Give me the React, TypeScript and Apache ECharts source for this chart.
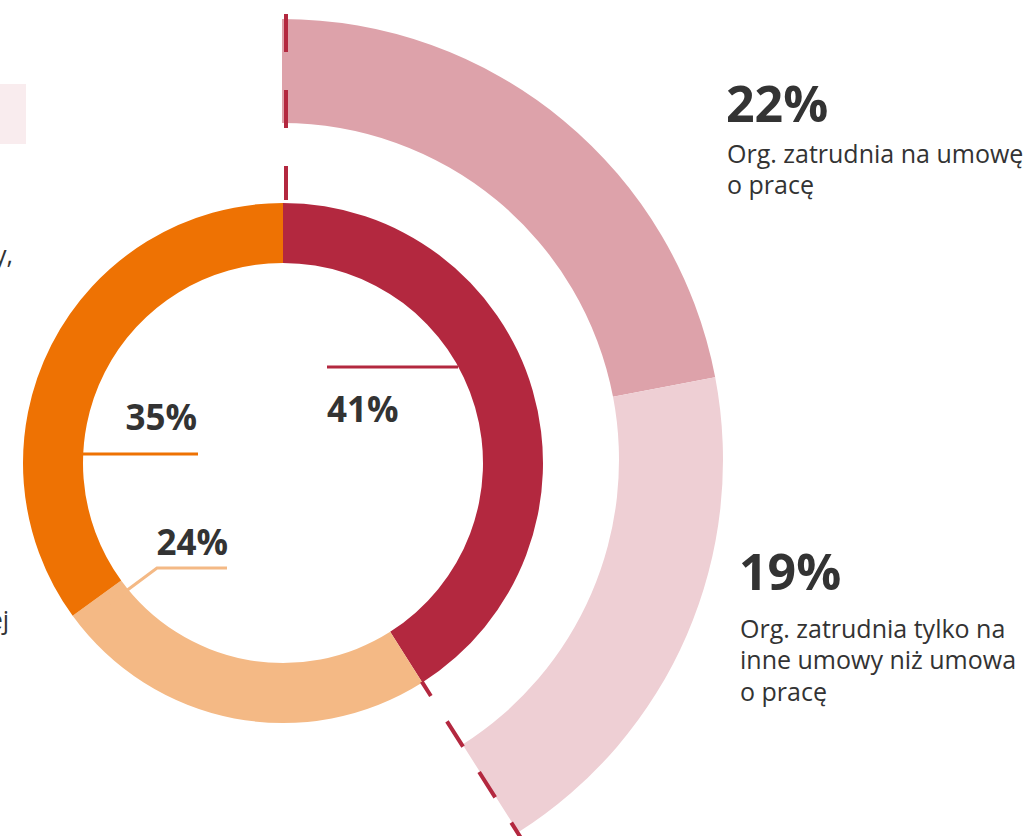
import React, { useEffect, useRef } from 'react';
import * as echarts from 'echarts';

// ---- data ----
const innerNames = ['Grupa 1', 'Grupa 2', 'Grupa 3'];
const innerValues = [41, 24, 35];
const innerColors = ['#b3283f', '#f4b985', '#ee7203'];

const outerNames = ['Org. zatrudnia na umowę o pracę', 'Org. zatrudnia tylko na inne umowy niż umowa o pracę'];
const outerValues = [22, 19];
const outerColors = ['#dda2aa', '#eecfd4'];
const outerDescriptions = ['Org. zatrudnia na umowę\no pracę', 'Org. zatrudnia tylko na\ninne umowy niż umowa\no pracę'];

const leftFragments = ['y,', 'ej'];

// ---- layout ----
const CX = 283;
const CY = 463;
const OCX = 282;
const OCY = 460;
const FONT = "'Open Sans', 'Noto Sans', sans-serif";
const TEXT = '#333333';

function pt(r: number, deg: number): number[] {
  const a = (deg * Math.PI) / 180;
  return [CX + r * Math.sin(a), CY - r * Math.cos(a)];
}

function txt(text: string, x: number, y: number, size: number, bold: boolean, align: string, vAlign: string, lineHeight?: number) {
  return {
    type: 'text',
    x,
    y,
    z: 120,
    style: {
      text,
      fill: TEXT,
      fontSize: size,
      fontWeight: bold ? 'bold' : 'normal',
      fontFamily: FONT,
      align,
      textAlign: align,
      verticalAlign: vAlign,
      textVerticalAlign: vAlign,
      lineHeight: lineHeight || size * 1.2,
    },
  };
}

export default function App() {
  const ref = useRef<HTMLDivElement>(null);

  useEffect(() => {
    if (!ref.current) return;
    const chart = echarts.init(ref.current, undefined, { renderer: 'svg' });

    const innerTotal = innerValues.reduce((a, b) => a + b, 0);
    const outerSum = outerValues.reduce((a, b) => a + b, 0);
    const endAngle = (innerValues[0] / innerTotal) * 360;

    const innerData = innerValues.map((v, i) => ({ name: innerNames[i], value: v, itemStyle: { color: innerColors[i] } }));
    const outerData: any[] = outerValues.map((v, i) => ({ name: outerNames[i], value: v, itemStyle: { color: outerColors[i] } }));
    outerData.push({ name: 'rest', value: innerTotal - outerSum, itemStyle: { color: 'rgba(0,0,0,0)' }, emphasis: { disabled: true } });

    const vTop = pt(449, 0);
    const vBot = pt(263, 0);
    const dStart = pt(259, endAngle);
    const dEnd = pt(500, endAngle);

    const graphics: any[] = [
      { type: 'rect', shape: { x: 0, y: 84, width: 26, height: 60 }, style: { fill: '#f9ecee' }, z: 1 },
      txt(leftFragments[0], 13, 254, 25, false, 'right', 'middle'),
      txt(leftFragments[1], 9, 619, 25, false, 'right', 'middle'),
      {
        type: 'line', z: 110,
        shape: { x1: vTop[0] + 3, y1: vTop[1], x2: vBot[0] + 3, y2: vBot[1] },
        style: { stroke: innerColors[0], lineWidth: 4, lineDash: [38, 38] },
      },
      {
        type: 'line', z: 110,
        shape: { x1: dStart[0], y1: dStart[1], x2: dEnd[0], y2: dEnd[1] },
        style: { stroke: innerColors[0], lineWidth: 4, lineDash: [30, 30], lineDashOffset: 13 },
      },
      // leader lines
      { type: 'polyline', z: 110, shape: { points: [[327, 367], [458, 367]] }, style: { stroke: innerColors[0], lineWidth: 3, fill: 'none' } },
      { type: 'polyline', z: 110, shape: { points: [[83, 454], [198, 454]] }, style: { stroke: innerColors[2], lineWidth: 3, fill: 'none' } },
      { type: 'polyline', z: 110, shape: { points: [[110, 603], [157, 568], [227, 568]] }, style: { stroke: innerColors[1], lineWidth: 3, fill: 'none' } },
      // inner value labels
      txt(innerValues[0] + '%', 327, 408, 35, true, 'left', 'middle'),
      txt(innerValues[2] + '%', 197, 416, 35, true, 'right', 'middle'),
      txt(innerValues[1] + '%', 228, 541, 35, true, 'right', 'middle'),
      // outer labels
      txt(outerValues[0] + '%', 726, 103, 50, true, 'left', 'middle'),
      txt(outerDescriptions[0], 727, 137, 25, false, 'left', 'top', 31.5),
      txt(outerValues[1] + '%', 739, 571, 50, true, 'left', 'middle'),
      txt(outerDescriptions[1], 740, 612, 25, false, 'left', 'top', 31.5),
    ];

    chart.setOption({
      animation: false,
      backgroundColor: '#ffffff',
      series: [
        {
          type: 'pie',
          center: [OCX, OCY],
          radius: [337, 441],
          startAngle: 90,
          clockwise: true,
          silent: true,
          label: { show: false },
          labelLine: { show: false },
          data: outerData,
        },
        {
          type: 'pie',
          center: [CX, CY],
          radius: [200, 260],
          startAngle: 90,
          clockwise: true,
          silent: true,
          label: { show: false },
          labelLine: { show: false },
          data: innerData,
        },
      ],
      graphic: graphics,
    });

    return () => chart.dispose();
  }, []);

  return <div ref={ref} style={{ position: 'fixed', left: 0, top: 0, width: 1033, height: 836 }} />;
}
